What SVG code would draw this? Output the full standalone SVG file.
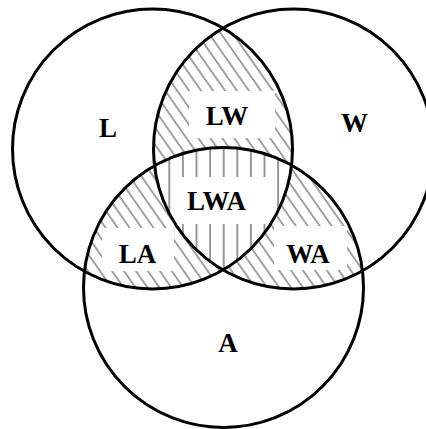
<svg xmlns="http://www.w3.org/2000/svg" width="426" height="429" viewBox="0 0 426 429">
<style>
.ring{fill:none;stroke:#000;stroke-width:3}
.lbl{font-family:"Liberation Serif","Times New Roman",serif;font-weight:bold;font-size:27px;fill:#000;text-anchor:middle}
.box{fill:#fff}
</style>
<defs>
<pattern id="diag" patternUnits="userSpaceOnUse" width="9.8" height="20" patternTransform="rotate(-35)">
<line x1="4.9" y1="-1" x2="4.9" y2="21" stroke="#444" stroke-width="1"/>
</pattern>
<pattern id="vert" patternUnits="userSpaceOnUse" x="162.5" y="0" width="13.6" height="20">
<line x1="6.8" y1="-1" x2="6.8" y2="21" stroke="#444" stroke-width="1.1"/>
</pattern>
<clipPath id="cL"><circle cx="152.5" cy="149" r="140"/></clipPath>
<clipPath id="cW"><circle cx="293.5" cy="149" r="140"/></clipPath>
<clipPath id="cA"><circle cx="223.5" cy="287.5" r="140"/></clipPath>
</defs>
<rect width="426" height="429" fill="#fff"/>
<g id="hatching">
<g clip-path="url(#cL)"><rect width="426" height="429" fill="url(#diag)" clip-path="url(#cW)"/></g>
<g clip-path="url(#cL)"><rect width="426" height="429" fill="url(#diag)" clip-path="url(#cA)"/></g>
<g clip-path="url(#cW)"><rect width="426" height="429" fill="url(#diag)" clip-path="url(#cA)"/></g>
<g clip-path="url(#cL)"><g clip-path="url(#cW)"><g clip-path="url(#cA)">
<rect width="426" height="429" fill="#fff"/>
<rect width="426" height="429" fill="url(#vert)"/>
</g></g></g>
</g>
<g id="boxes">
<rect class="box" x="189" y="91" width="86" height="47"/>
<rect class="box" x="171" y="177" width="106" height="47"/>
<rect class="box" x="102" y="228" width="72" height="43"/>
<rect class="box" x="274" y="226" width="73" height="44"/>
</g>
<g id="connectors">
<circle id="circle-L" class="ring" cx="152.5" cy="149" r="140"/>
<circle id="circle-W" class="ring" cx="293.5" cy="149" r="140"/>
<circle id="circle-A" class="ring" cx="223.5" cy="287.5" r="140"/>
</g>
<g id="node-L"><text class="lbl" x="108" y="137">L</text></g>
<g id="node-W"><text class="lbl" x="354.5" y="132">W</text></g>
<g id="node-A"><text class="lbl" x="228" y="352">A</text></g>
<g id="node-LW"><text class="lbl" x="227" y="125">LW</text></g>
<g id="node-LWA"><text class="lbl" x="216.5" y="210">LWA</text></g>
<g id="node-LA"><text class="lbl" x="137.5" y="263">LA</text></g>
<g id="node-WA"><text class="lbl" x="308" y="263">WA</text></g>
</svg>
